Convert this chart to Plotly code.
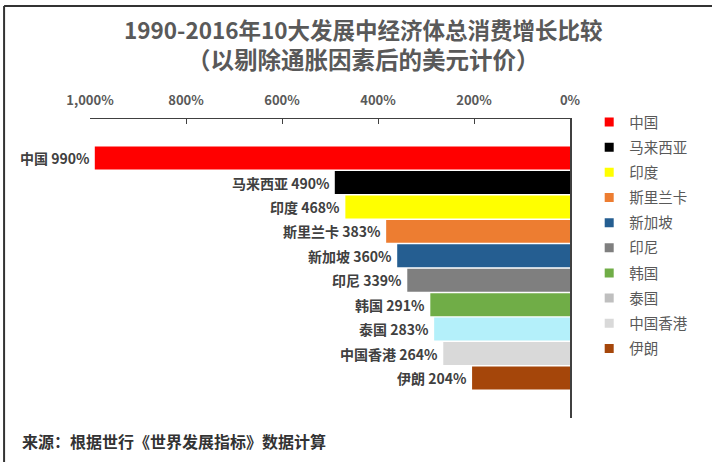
import plotly.graph_objects as go

countries = ["中国", "马来西亚", "印度", "斯里兰卡", "新加坡", "印尼", "韩国", "泰国", "中国香港", "伊朗"]
values = [990, 490, 468, 383, 360, 339, 291, 283, 264, 204]
bar_colors = ["#FF0000", "#000000", "#FFFF00", "#ED7D31", "#255E91", "#7F7F7F",
              "#70AD47", "#B4F0FA", "#D9D9D9", "#A5460A"]
legend_colors = ["#FF0000", "#000000", "#FFFF00", "#ED7D31", "#255E91", "#7F7F7F",
                 "#70AD47", "#BFBFBF", "#D9D9D9", "#A5460A"]
tick_vals = [1000, 800, 600, 400, 200, 0]
tick_labels = ["1,000%", "800%", "600%", "400%", "200%", "0%"]

FONT = "Noto Sans CJK SC"
positions = list(range(len(countries)))

fig = go.Figure()
fig.add_trace(go.Bar(
    x=values, y=positions, orientation="h",
    marker=dict(color=bar_colors, line=dict(width=0)),
    showlegend=False, hoverinfo="skip",
))
for i, (c, col) in enumerate(zip(countries, legend_colors)):
    fig.add_trace(go.Scatter(
        x=[None], y=[None], mode="markers", name=c,
        marker=dict(symbol="square", size=9, color=col),
        legendgroup=f"g{i}",
    ))

for i, (c, v) in enumerate(zip(countries, values)):
    fig.add_annotation(
        x=v, y=i, xref="x", yref="y", text=f"<b>{c} {v}%</b>",
        showarrow=False, xanchor="right", yanchor="middle", xshift=-3,
        font=dict(family=FONT, size=14, color="#404040"),
    )

fig.update_layout(
    width=712, height=462,
    margin=dict(l=90, r=142, t=119, b=44),
    paper_bgcolor="white", plot_bgcolor="white",
    bargap=0.06,
    font=dict(family=FONT, color="#595959"),
    xaxis=dict(
        range=[1000, 0], side="top", tickvals=tick_vals, ticktext=tick_labels,
        showgrid=False, zeroline=False,
        showline=True, linecolor="#404040", linewidth=1.2,
        ticks="inside", ticklen=5, tickcolor="#404040",
        tickfont=dict(family=FONT, size=13, color="#595959", weight="bold"),
        ticklabelstandoff=8,
    ),
    yaxis=dict(
        range=[10.64, -1.6], showticklabels=False, showgrid=False,
        zeroline=False, showline=True, linecolor="#404040", linewidth=1.5,
        side="right",
    ),
    legend=dict(
        x=1.04, y=1.043, xanchor="left", yanchor="top",
        font=dict(family=FONT, size=14.5, color="#595959"),
        tracegroupgap=3.3, itemwidth=30, maxheight=420,
    ),
    annotations=list(fig.layout.annotations) + [
        dict(text="<b>1990-2016年10大发展中经济体总消费增长比较</b>", xref="paper", yref="paper",
             x=0.57, y=1.0, xanchor="center", yanchor="middle", showarrow=False,
             yshift=119 - 29, font=dict(family=FONT, size=22.5, color="#595959")),
        dict(text="<b>（以剔除通胀因素后的美元计价）</b>", xref="paper", yref="paper",
             x=0.57, y=1.0, xanchor="center", yanchor="middle", showarrow=False,
             yshift=119 - 59, font=dict(family=FONT, size=23.5, color="#595959")),
        dict(text="<b>来源：根据世行《世界发展指标》数据计算</b>", xref="paper", yref="paper",
             x=0, y=0, xanchor="left", yanchor="middle", showarrow=False,
             xshift=-70, yshift=-(441 - 418), font=dict(family=FONT, size=16, color="#333333")),
    ],
    shapes=[
        dict(type="line", xref="paper", yref="paper", x0=-0.179, x1=1.3, y0=1.378, y1=1.378,
             line=dict(color="#333333", width=2)),
        dict(type="line", xref="paper", yref="paper", x0=-0.179, x1=-0.179, y0=1.378, y1=-0.15,
             line=dict(color="#333333", width=2)),
    ],
)

fig.write_html("out.html", config={"displayModeBar": False},
               post_script="document.body.style.margin='0';")
